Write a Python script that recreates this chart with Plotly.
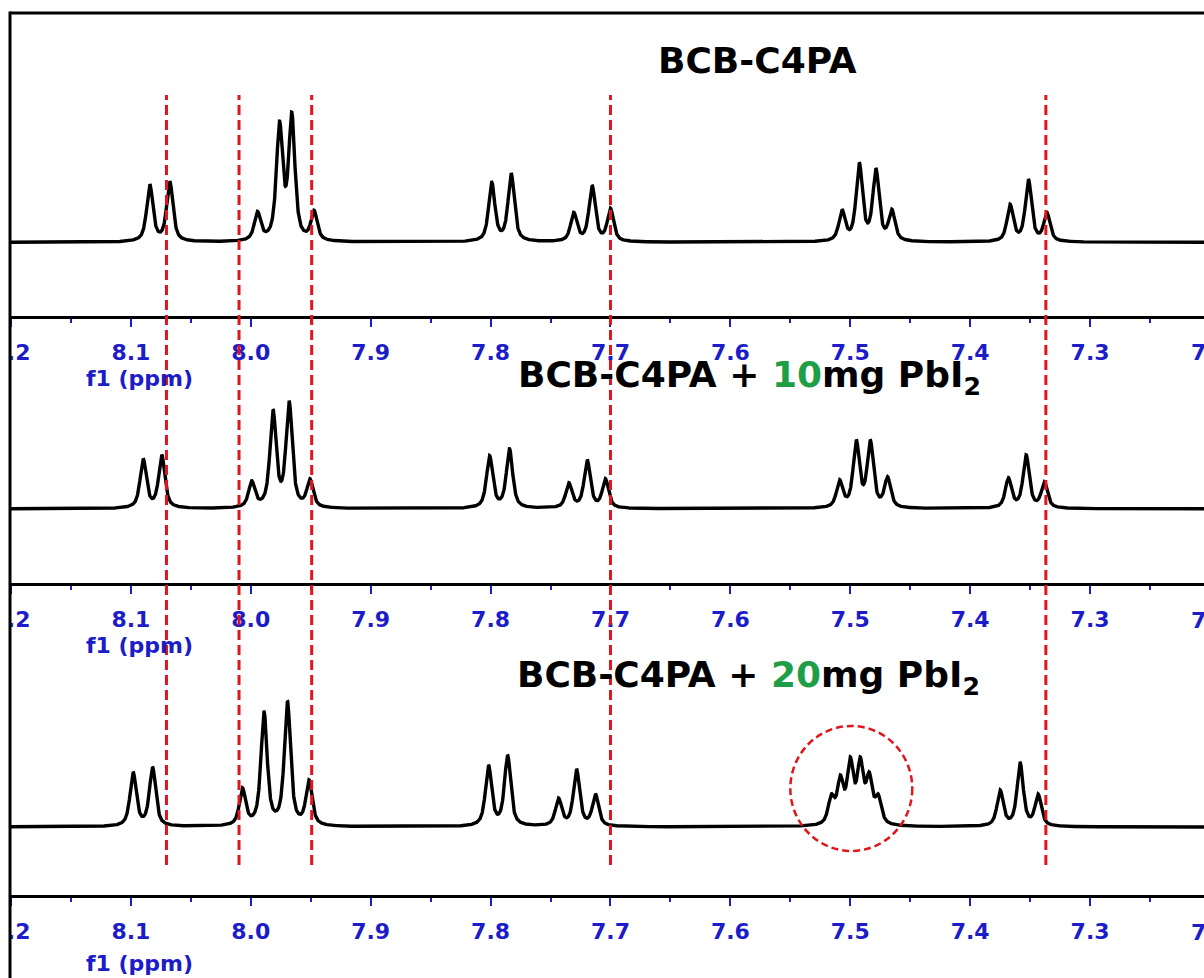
import numpy as np
import plotly.graph_objects as go

# ---------------- data ----------------
# peak positions (ppm) and apparent peak intensities (a.u.) for each spectrum
ppm_pure = [8.0842, 8.0675, 7.9944, 7.9760, 7.9658, 7.9472, 7.7990, 7.7828,
            7.7306, 7.7153, 7.7000, 7.5069, 7.4925, 7.4786, 7.4653, 7.3667,
            7.3514, 7.3360]
int_pure = [58, 61, 31, 121, 130, 32, 60, 69, 30, 57, 34, 33, 80, 74, 33,
            38, 63, 30]

ppm_10 = [8.0897, 8.0742, 7.9992, 7.9814, 7.9680, 7.9506, 7.8008, 7.7842,
          7.7347, 7.7194, 7.7042, 7.5089, 7.4950, 7.4833, 7.4689, 7.3681,
          7.3533, 7.3381]
int_10 = [50, 54, 28, 99, 108, 30, 53, 60, 26, 49, 30, 29, 69, 69, 32,
          31, 54, 27]

ppm_20 = [8.0981, 8.0819, 8.0069, 7.9889, 7.9694, 7.9514, 7.8017, 7.7858,
          7.7433, 7.7283, 7.7125, 7.5158, 7.5083, 7.5000, 7.4917, 7.4842,
          7.4767, 7.3750, 7.3583, 7.3433]
int_20 = [55, 60, 39, 115, 126, 47, 62, 72, 29, 58, 33, 33, 52, 70, 70,
          55, 33, 37, 64, 33]

# reference shifts marked by red dashed lines (ppm)
ref_lines_ppm = [8.0703, 8.0098, 7.9492, 7.7000, 7.3369]

tick_vals = [8.2, 8.1, 8.0, 7.9, 7.8, 7.7, 7.6, 7.5, 7.4, 7.3]
tick_text = ["8.2", "8.1", "8.0", "7.9", "7.8", "7.7", "7.6", "7.5", "7.4", "7.3"]
edge_tick_text = "7.2"  # last tick, only partly visible at the right edge

titles = ["BCB-C4PA",
          "BCB-C4PA + <span style='color:#1f9e48'>10</span>mg PbI<sub>2</sub>",
          "BCB-C4PA + <span style='color:#1f9e48'>20</span>mg PbI<sub>2</sub>"]
axis_title = "f1 (ppm)"

# ---------------- line shapes (pseudo-Voigt) ----------------
HWHM = 0.0031
ETA = 0.7
x = np.linspace(8.21, 7.2, 6001)


def shape(d):
    r = (d / HWHM) ** 2
    return ETA / (1 + r) + (1 - ETA) * np.exp(-np.log(2) * r)


def spectrum(pos, hts):
    pos = np.asarray(pos, float)
    hts = np.asarray(hts, float)
    A = shape(pos[:, None] - pos[None, :])
    amp = np.clip(np.linalg.solve(A, hts), 0, None)
    return (amp[None, :] * shape(x[:, None] - pos[None, :])).sum(axis=1)


spectra = [spectrum(ppm_pure, int_pure), spectrum(ppm_10, int_10), spectrum(ppm_20, int_20)]

# ---------------- figure ----------------
W, H = 1204, 978
ML, MT, MB = 10, 13, 83
PH = H - MT - MB  # plot height (882)
PW = W - ML


def py(pix):  # page pixel y -> paper y
    return (H - MB - pix) / PH


def px(pix):
    return (pix - ML) / PW


BLUE = "#1c1cc8"
RED = "#e0161c"
FONT = "DejaVu Sans"

fig = go.Figure()
axes = [("x", "y"), ("x2", "y2"), ("x3", "y3")]
for (xa, ya), s in zip(axes, spectra):
    fig.add_trace(go.Scatter(x=x, y=s, xaxis=xa, yaxis=ya, mode="lines",
                             line=dict(color="black", width=3.4),
                             hoverinfo="skip", showlegend=False))

axis_px = [315.5, 583, 895]
y_domains = [[py(315.5), 1.0], [py(583), py(315.5)], [0.0, py(583)]]
y_ranges = [[-73, 229], [-74, 193], [-68, 244]]

x_common = dict(range=[8.2008, 7.205], showline=True, linecolor="black", linewidth=3,
                ticks="outside", ticklen=8, tickwidth=2, tickcolor=BLUE,
                tickmode="array", tickvals=tick_vals, ticktext=tick_text,
                tickfont=dict(family=FONT, size=22, color=BLUE, weight="bold"),
                ticklabelstandoff=7, ticklabeloverflow="allow", automargin=False,
                minor=dict(ticks="outside", ticklen=4, tickwidth=2, tickcolor=BLUE,
                           dtick=0.05, tick0=7.25, showgrid=False),
                showgrid=False, zeroline=False, fixedrange=True)

layout = dict(width=W, height=H, margin=dict(l=ML, r=0, t=MT, b=MB, pad=0, autoexpand=False),
              paper_bgcolor="white", plot_bgcolor="white", showlegend=False)
for i, ((xa, ya), dom, rng) in enumerate(zip(axes, y_domains, y_ranges)):
    kx = "xaxis" if i == 0 else f"xaxis{i+1}"
    ky = "yaxis" if i == 0 else f"yaxis{i+1}"
    layout[kx] = dict(x_common, domain=[0, 1], anchor=ya)
    layout[ky] = dict(domain=dom, range=rng, visible=False, anchor=xa, fixedrange=True,
                      automargin=False)
fig.update_layout(**layout)

shapes = []
# white cover left of frame, then frame lines
shapes.append(dict(type="rect", xref="paper", yref="paper", x0=-0.02, x1=0,
                   y0=-0.2, y1=1.1, fillcolor="white", line=dict(width=0), layer="above"))
shapes.append(dict(type="line", xref="paper", yref="paper", x0=0, x1=0,
                   y0=py(H + 5), y1=1.0 + 1.5 / PH, line=dict(color="black", width=3), layer="above"))
shapes.append(dict(type="line", xref="paper", yref="paper", x0=0, x1=1.01,
                   y0=1, y1=1, line=dict(color="black", width=3), layer="above"))
# red dashed reference lines
for v in ref_lines_ppm:
    shapes.append(dict(type="line", xref="x", yref="paper", x0=v, x1=v,
                       y0=py(865), y1=py(95),
                       line=dict(color=RED, width=3, dash="10px,5px"), layer="above"))
# dashed circle around the 7.50 multiplet
shapes.append(dict(type="circle", xref="x3", yref="y3", x0=7.550, x1=7.4483,
                   y0=-24, y1=101, line=dict(color=RED, width=2.5, dash="7px,4px"),
                   layer="above"))
fig.update_layout(shapes=shapes)

ann = []
title_pos = [(757, 61), (750, 377), (748, 677)]
for t, (tx, ty) in zip(titles, title_pos):
    ann.append(dict(text=t, xref="paper", yref="paper", x=px(tx), y=py(ty),
                    xanchor="center", yanchor="middle", showarrow=False,
                    font=dict(family=FONT, size=36, color="black", weight="bold")))
for ly in [378, 645, 963]:
    ann.append(dict(text=axis_title, xref="paper", yref="paper", x=px(139), y=py(ly),
                    xanchor="center", yanchor="middle", showarrow=False,
                    font=dict(family=FONT, size=22, color=BLUE, weight="bold")))
for ap in axis_px:
    ann.append(dict(text=edge_tick_text, xref="paper", yref="paper", x=px(1210),
                    y=py(ap + 37), xanchor="center", yanchor="middle", showarrow=False,
                    font=dict(family=FONT, size=22, color=BLUE, weight="bold")))
fig.update_layout(annotations=ann)

fig.write_html("out.html")
